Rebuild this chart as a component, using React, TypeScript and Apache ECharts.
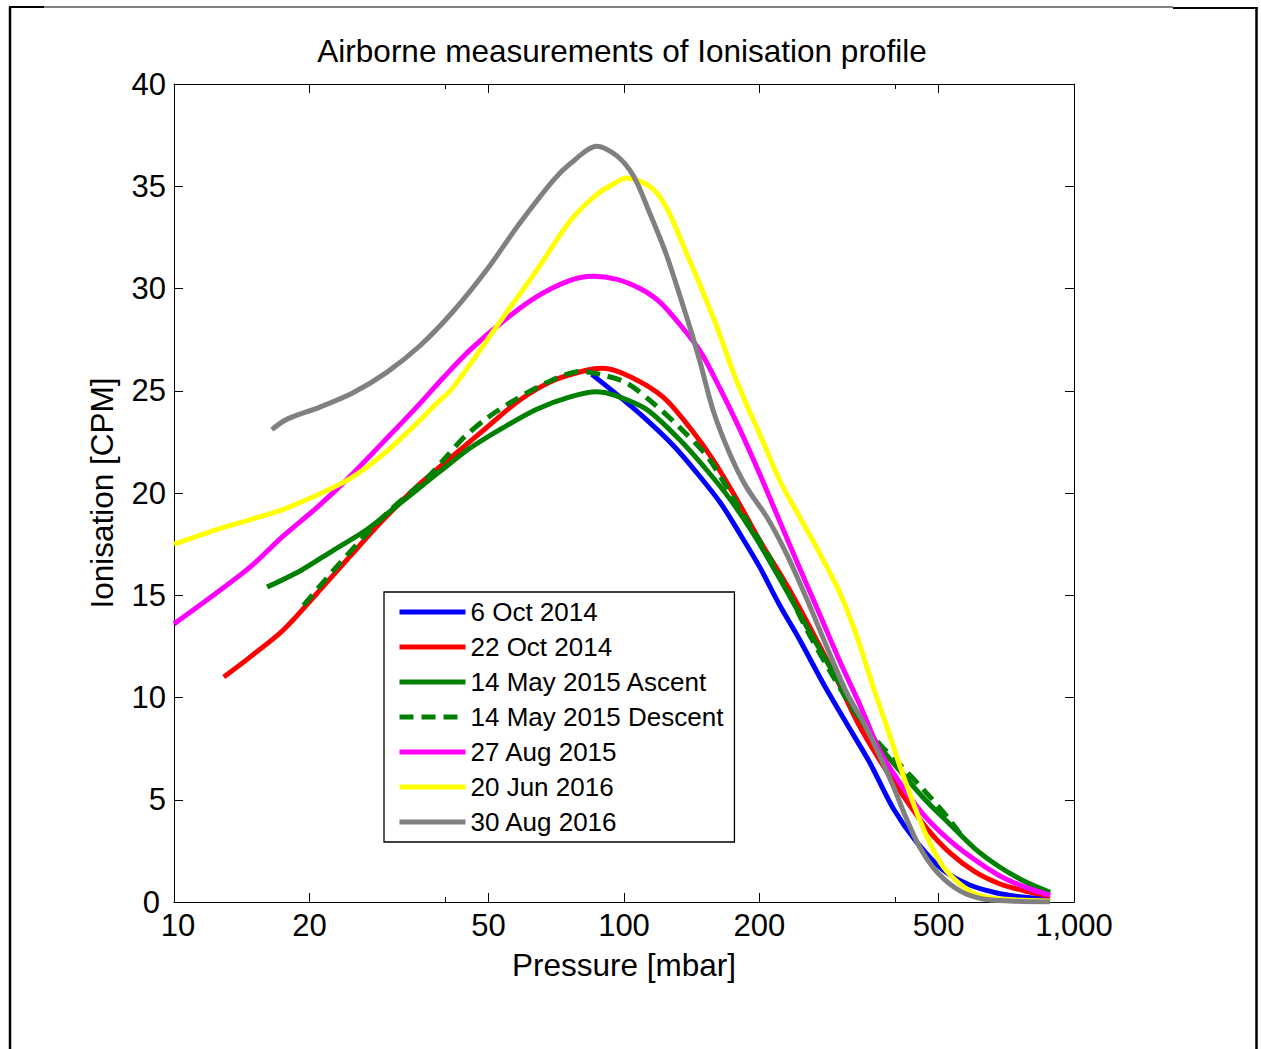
import React, { useEffect, useRef } from 'react';
import * as echarts from 'echarts';

// ---- data: [pressure (mbar), ionisation (CPM)] ----
const oct6_2014: [number, number][] = [
  [84.8, 25.8], [97.9, 24.7], [112, 23.6], [129, 22.3], [145, 21.0], [164, 19.5], [181, 18.0],
  [200, 16.4], [222, 14.5], [246, 12.8], [277, 10.7], [311, 8.8], [352, 6.8], [396, 4.6],
  [448, 2.9], [512, 1.56], [587, 0.83], [674, 0.44], [770, 0.24], [885, 0.15],
];
const oct22_2014: [number, number][] = [
  [12.9, 11.0], [14.8, 12.0], [17.5, 13.3], [20.8, 15.1], [24.6, 16.9], [29.2, 18.7], [34.6, 20.3],
  [41.1, 21.7], [49.5, 23.2], [58.7, 24.55], [69.7, 25.5], [82.5, 26.0], [89.6, 26.1], [103, 25.7],
  [122, 24.7], [140, 23.2], [158, 21.6], [178, 19.7], [200, 17.7], [230, 15.5], [263, 13.15],
  [297, 10.9], [330, 8.8], [371, 6.9], [417, 5.2], [471, 3.6], [530, 2.4], [603, 1.47], [685, 0.88],
  [778, 0.54], [885, 0.29],
];
const may14_2015_ascent: [number, number][] = [
  [16.1, 15.4], [19.1, 16.2], [22.6, 17.2], [26.8, 18.2], [31.8, 19.5], [37.7, 20.8], [41.1, 21.45],
  [45.5, 22.2], [53.9, 23.2], [64, 24.1], [75.9, 24.7], [87, 24.95], [94.7, 24.8], [112, 24.1],
  [133, 22.6], [153, 21.1], [172, 19.7], [194, 18.0], [222, 15.8], [255, 13.45], [292, 11.2],
  [328, 9.3], [367, 7.7], [411, 6.4], [467, 5.0], [530, 3.8], [603, 2.6], [685, 1.7], [778, 1.0],
  [885, 0.47],
];
const may14_2015_descent: [number, number][] = [
  [19.4, 14.5], [23, 16.4], [26.8, 18.0], [30.7, 19.3], [36.4, 20.7], [40.4, 21.8], [44, 22.7],
  [49.5, 23.65], [58.7, 24.7], [69.7, 25.55], [79.9, 25.95], [88.5, 25.8], [101, 25.4], [116, 24.4],
  [133, 23.2], [153, 21.8], [169, 20.3], [187, 18.7], [208, 17.05], [230, 15.3], [255, 13.3],
  [292, 11.0], [328, 9.2], [367, 7.8], [411, 6.7], [467, 5.4], [530, 4.0], [560, 3.3],
];
const aug27_2015: [number, number][] = [
  [10, 13.6], [12.4, 15.1], [14.8, 16.4], [17.5, 17.9], [20.8, 19.3], [24.6, 20.8], [29.2, 22.5],
  [34.6, 24.2], [39.7, 25.65], [45.5, 27.0], [53.9, 28.4], [64, 29.6], [75.9, 30.4], [85.3, 30.6],
  [96.5, 30.45], [108.5, 30.0], [120, 29.35], [133, 28.25], [148, 26.9], [163.5, 25.1], [181, 23.1],
  [200.5, 20.9], [222, 18.6], [246, 16.3], [273, 14.0], [302, 11.75], [335, 9.6], [371, 7.35],
  [417, 5.6], [466, 4.2], [530, 3.0], [603, 2.05], [685, 1.27], [778, 0.73], [885, 0.34],
];
const jun20_2016: [number, number][] = [
  [10, 17.5], [12.4, 18.2], [14.8, 18.7], [17.5, 19.2], [20.8, 19.9], [24.6, 20.7], [29.2, 21.9],
  [34.6, 23.4], [38.4, 24.4], [41.1, 25.0], [45.5, 26.3], [53.9, 28.6], [64, 30.9], [75.9, 33.3],
  [87, 34.6], [96.3, 35.2], [101, 35.4], [114, 35.0], [124, 34.0], [136, 32.0], [148, 30.1],
  [161, 28.1], [175, 25.9], [187, 24.35], [201, 22.8], [222, 20.6], [246, 18.8], [273, 17.0],
  [302, 15.1], [329, 13.0], [358, 10.5], [384, 8.55], [411, 6.6], [440, 4.8], [471, 3.2], [512, 1.73],
  [568, 0.75], [629, 0.26], [746, 0.1], [885, 0.05],
];
const aug30_2016: [number, number][] = [
  [16.5, 23.1], [17.8, 23.6], [21.1, 24.2], [25, 24.9], [29.7, 25.9], [35.2, 27.2], [41.8, 28.9],
  [49.5, 30.9], [58.7, 33.2], [69.7, 35.3], [75.9, 36.1], [87, 36.95], [96.3, 36.5], [105, 35.5],
  [114, 33.7], [124, 31.7], [136, 29.0], [141, 27.9], [148, 26.3], [158, 24.0], [172, 21.9],
  [187, 20.3], [208, 18.8], [230, 17.0], [255, 14.8], [282, 12.5], [313, 10.2], [346, 8.5],
  [396, 5.7], [421, 4.25], [455, 2.65], [496, 1.47], [558, 0.54], [628, 0.15], [721, 0.05], [885, 0],
];

const seriesNames = [
  '6 Oct 2014', '22 Oct 2014', '14 May 2015 Ascent', '14 May 2015 Descent',
  '27 Aug 2015', '20 Jun 2016', '30 Aug 2016',
];
const seriesData = [oct6_2014, oct22_2014, may14_2015_ascent, may14_2015_descent, aug27_2015, jun20_2016, aug30_2016];
const seriesColors = ['#0000FF', '#FF0000', '#008000', '#008000', '#FF00FF', '#FFFF00', '#808080'];
const seriesDashed = [false, false, false, true, false, false, false];

const pressureTicks = [10, 20, 50, 100, 200, 500, 1000];
const pressureMinorTicks = [40, 400];
const ionMin = 0;
const ionMax = 40;
const ionStep = 5;

const titleText = 'Airborne measurements of Ionisation profile';
const xName = 'Pressure [mbar]';
const yName = 'Ionisation [CPM]';

const FONT = "'Liberation Sans', Arial, Helvetica, sans-serif";

export default function App() {
  const ref = useRef<HTMLDivElement>(null);

  useEffect(() => {
    if (!ref.current) return;
    const chart = echarts.init(ref.current, undefined, { renderer: 'svg' });

    const fmt = (v: number) => Number(v).toLocaleString('en-US');
    const baseX = {
      type: 'log' as const,
      logBase: 10,
      min: 10,
      max: 1000,
      splitLine: { show: false },
      minorTick: { show: false },
      minorSplitLine: { show: false },
    };
    const tickLine = { color: '#000', width: 1 };
    const labelText = { fontSize: 31, color: '#000', fontFamily: FONT, lineHeight: 22 };

    const xAxis: any[] = [
      {
        ...baseX,
        position: 'bottom',
        axisLine: { show: true, onZero: false, lineStyle: tickLine },
        axisTick: { show: true, inside: true, length: 9, customValues: pressureTicks, lineStyle: tickLine },
        axisLabel: {
          show: true,
          customValues: pressureTicks,
          formatter: (v: number) => (v === pressureTicks[0] ? '{first|' + fmt(v) + '}' : fmt(v)),
          ...labelText,
          margin: 12,
          rich: { first: { ...labelText, padding: [0, 0, 0, 8] } },
        },
        name: xName,
        nameLocation: 'middle',
        nameGap: 47,
        nameTextStyle: { fontSize: 31.5, color: '#000', fontFamily: FONT },
      },
      {
        ...baseX,
        position: 'top',
        axisLine: { show: true, onZero: false, lineStyle: tickLine },
        axisTick: { show: true, inside: true, length: 9, customValues: pressureTicks, lineStyle: tickLine },
        axisLabel: { show: false },
      },
      {
        ...baseX,
        position: 'bottom',
        axisLine: { show: false, onZero: false },
        axisTick: { show: true, inside: true, length: 5, customValues: pressureMinorTicks, lineStyle: tickLine },
        axisLabel: { show: false },
      },
      {
        ...baseX,
        position: 'top',
        axisLine: { show: false, onZero: false },
        axisTick: { show: true, inside: true, length: 5, customValues: pressureMinorTicks, lineStyle: tickLine },
        axisLabel: { show: false },
      },
    ];

    const yAxis: any[] = [
      {
        type: 'value',
        min: ionMin,
        max: ionMax,
        interval: ionStep,
        position: 'left',
        axisLine: { show: true, onZero: false, lineStyle: tickLine },
        axisTick: { show: true, inside: true, length: 9, lineStyle: tickLine },
        axisLabel: {
          ...labelText,
          margin: 8,
          formatter: (v: number) => (v === ionMin ? '{first|' + v + '}' : String(v)),
          rich: { first: { ...labelText, padding: [0, 6, 0, 0] } },
        },
        splitLine: { show: false },
        name: yName,
        nameLocation: 'middle',
        nameGap: 56,
        nameTextStyle: { fontSize: 31.5, color: '#000', fontFamily: FONT },
      },
      {
        type: 'value',
        min: ionMin,
        max: ionMax,
        interval: ionStep,
        position: 'right',
        axisLine: { show: true, onZero: false, lineStyle: tickLine },
        axisTick: { show: true, inside: true, length: 9, lineStyle: tickLine },
        axisLabel: { show: false },
        splitLine: { show: false },
      },
    ];

    const series = seriesNames.map((name, i) => ({
      name,
      type: 'line',
      xAxisIndex: 0,
      yAxisIndex: 0,
      data: seriesData[i],
      symbol: 'circle',
      showSymbol: false,
      smooth: 0.3,
      clip: true,
      silent: true,
      lineStyle: {
        color: seriesColors[i],
        width: 5,
        type: seriesDashed[i] ? [14, 8] : 'solid',
        cap: 'butt',
      },
      itemStyle: { color: seriesColors[i] },
      emphasis: { disabled: true },
    }));

    chart.setOption({
      animation: false,
      backgroundColor: '#fff',
      grid: { left: 174, right: 187, top: 84, bottom: 147, containLabel: false },
      xAxis,
      yAxis,
      legend: {
        orient: 'vertical',
        left: 384,
        top: 592,
        padding: [7, 11, 7, 13],
        itemWidth: 66,
        itemHeight: 26,
        itemGap: 9,
        selectedMode: false,
        backgroundColor: '#fff',
        borderColor: '#000',
        borderWidth: 1.3,
        textStyle: { fontSize: 26, color: '#000', fontFamily: FONT, lineHeight: 26 },
        lineStyle: { width: 5 },
        itemStyle: { opacity: 0 },
        data: seriesNames,
        z: 10,
      },
      graphic: [
        { type: 'text', x: 622, y: 51, style: { text: titleText, fontSize: 31.5, fontFamily: FONT, fill: '#000', align: 'center', verticalAlign: 'middle' } },
        { type: 'line', shape: { x1: 10, y1: 7, x2: 10, y2: 1049 }, style: { stroke: '#000', lineWidth: 2.5 } },
        { type: 'line', shape: { x1: 9, y1: 7, x2: 44, y2: 7 }, style: { stroke: '#000', lineWidth: 2 } },
        { type: 'line', shape: { x1: 44, y1: 7, x2: 1173, y2: 7 }, style: { stroke: '#000', lineWidth: 1 } },
        { type: 'line', shape: { x1: 1173, y1: 8, x2: 1258, y2: 8 }, style: { stroke: '#000', lineWidth: 2 } },
        { type: 'line', shape: { x1: 1256.5, y1: 7, x2: 1256.5, y2: 1049 }, style: { stroke: '#000', lineWidth: 2.5 } },
      ],
      series,
    });

    return () => {
      chart.dispose();
    };
  }, []);

  return (
    <div
      ref={ref}
      style={{ position: 'fixed', left: 0, top: 0, width: 1261, height: 1049, background: '#fff' }}
    />
  );
}
